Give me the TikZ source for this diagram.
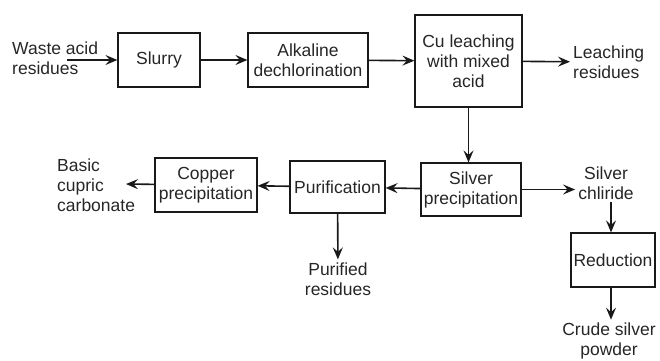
\documentclass[tikz,border=0pt]{standalone}
\usepackage{fontspec}
\setmainfont{Liberation Sans}
\usepackage{tikz}
\usetikzlibrary{arrows.meta,positioning}

\tikzset{
	box/.style={draw=black!90, line width=1.2pt, align=center, inner sep=1pt},
	product/.style={inner sep=3pt},
	flow/.style={-{Stealth[length=12pt,width=10pt,inset=4.5pt]}, line width=1.6pt, black!90},
}

\begin{document}
\begin{tikzpicture}[x=1pt, y=-1pt,
		every node/.style={font=\fontsize{17.5}{20}\selectfont, text=black!85}]
		\useasboundingbox (0,0) rectangle (660,360);

		% process boxes
		\draw (159,60) node[box, minimum width=82pt, minimum height=54pt] (slurry) {Slurry};
		\draw (308,60) node[box, minimum width=120pt, minimum height=54pt] (alkaline) {Alkaline\\dechlorination};
		\draw (468.5,61) node[box, minimum width=107pt, minimum height=92pt] (leaching) {Cu leaching\\with mixed\\acid};
		\draw (471,189.5) node[box, minimum width=100pt, minimum height=53pt] (silverprec) {Silver\\precipitation};
		\draw (337.5,187) node[box, minimum width=95pt, minimum height=52pt] (purification) {Purification};
		\draw (206,185) node[box, minimum width=102pt, minimum height=54pt] (copperprec) {Copper\\precipitation};
		\draw (613,260) node[box, minimum width=84pt, minimum height=54pt] (reduction) {Reduction};

		% inputs and products
		\draw (9,58) node[product, anchor=west, align=left] (waste) {Waste acid\\residues};
		\draw (570,62) node[product, anchor=west, align=left] (leachres) {Leaching\\residues};
		\draw (54,185) node[product, anchor=west, align=left] (basic) {Basic\\cupric\\carbonate};
		\draw (606,183) node[product, align=center] (chloride) {Silver\\chliride};
		\draw (338,279) node[product, align=center] (purified) {Purified\\residues};
		\draw (609,341) node[product, align=center] (crude) {Crude silver\\powder};

		\coordinate (wastein) at (67,60);
		\coordinate (basicout) at (126,184);
		\coordinate (chlorideout) at (611,202);

		\path[flow]
			(wastein)      edge (slurry)
			(slurry)       edge (alkaline)
			(alkaline)     edge (leaching)
			(leaching)     edge (leachres)
			               edge (leaching.south |- silverprec.north)
			(silverprec)   edge (purification)
			               edge (chloride.west |- silverprec)
			(purification) edge (copperprec)
			               edge (purified)
			(copperprec)   edge (basicout);
		\draw[flow] (chlorideout) -- (chlorideout |- reduction.north);
		\draw[flow] (reduction.south -| chlorideout) -- (crude.north -| chlorideout);
\end{tikzpicture}
\end{document}
